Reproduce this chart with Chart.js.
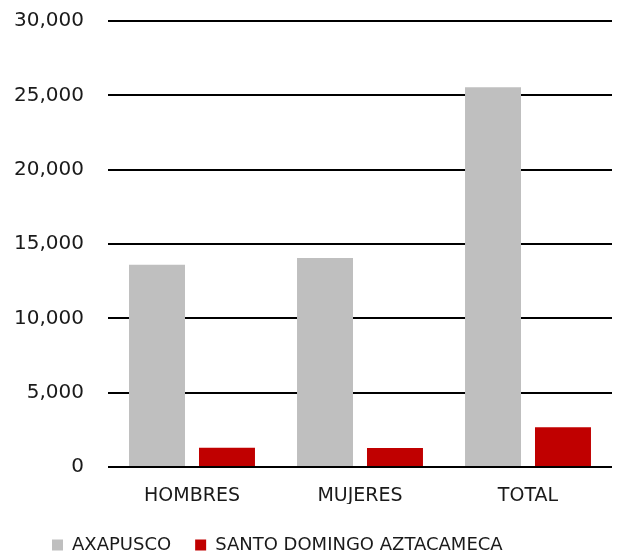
<!DOCTYPE html>
<html>
<head>
<meta charset="utf-8">
<script src="https://cdn.jsdelivr.net/npm/chart.js@4.4.1/dist/chart.umd.min.js"></script>
<style>
  html, body { margin: 0; padding: 0; background: #fff; }
  #wrap { width: 619px; height: 554px; }
</style>
</head>
<body>
<div id="wrap"><canvas id="barChart"></canvas></div>
<script>
// Población por sexo
const categorias = ["HOMBRES", "MUJERES", "TOTAL"];
const axapusco = [13600, 14050, 25550];
const santoDomingo = [1300, 1280, 2670];
const yTicks = [0, 5000, 10000, 15000, 20000, 25000, 30000];

const fontFamily = "'DejaVu Sans', sans-serif";
const textColor = "#1a1a1a";
const ctx = document.getElementById("barChart").getContext("2d");

// fixed legend strip at the bottom, nudged right and down
const legendBox = {
  id: "legendBox",
  beforeLayout(chart) {
    const lg = chart.legend;
    if (!lg || lg._fixed) return;
    const fit = lg.fit;
    const draw = lg.draw;
    lg.fit = function () {
      fit.call(this);
      this.height = 50;
    };
    lg.draw = function () {
      this.ctx.save();
      this.ctx.translate(28, 8);
      draw.call(this);
      this.ctx.restore();
    };
    lg._fixed = true;
  },
};

new Chart(ctx, {
  type: "bar",
  data: {
    labels: categorias,
    datasets: [
      {
        label: "AXAPUSCO",
        data: axapusco,
        backgroundColor: "#bfbfbf",
        categoryPercentage: 0.833,
        barPercentage: 0.8,
      },
      {
        label: "SANTO DOMINGO AZTACAMECA",
        data: santoDomingo,
        backgroundColor: "#c00000",
        categoryPercentage: 0.833,
        barPercentage: 0.8,
      },
    ],
  },
  plugins: [legendBox],
  options: {
    responsive: true,
    maintainAspectRatio: false,
    animation: false,
    layout: { padding: { top: 21, right: 7, left: 0, bottom: 0 } },
    plugins: {
      tooltip: { enabled: false },
      legend: {
        position: "bottom",
        align: "start",
        labels: {
          boxWidth: 11,
          boxHeight: 11,
          padding: 24,
          color: textColor,
          font: { family: fontFamily, size: 18 },
        },
      },
    },
    scales: {
      x: {
        grid: { display: false, drawTicks: false },
        border: { display: false },
        afterFit: (scale) => {
          scale.height = 37;
        },
        ticks: {
          color: textColor,
          padding: 18,
          font: { family: fontFamily, size: 19 },
        },
      },
      y: {
        min: 0,
        max: 30000,
        afterBuildTicks: (scale) => {
          scale.ticks = yTicks.map((v) => ({ value: v }));
        },
        afterFit: (scale) => {
          scale.width = 108;
          scale.paddingTop = 0;
          scale.paddingBottom = 0;
        },
        border: { display: false },
        grid: { color: "#000", lineWidth: 2, drawTicks: false },
        ticks: {
          color: textColor,
          padding: 24,
          font: { family: fontFamily, size: 20 },
          callback: (v) => v.toLocaleString("en-US"),
        },
      },
    },
  },
});
</script>
</body>
</html>
